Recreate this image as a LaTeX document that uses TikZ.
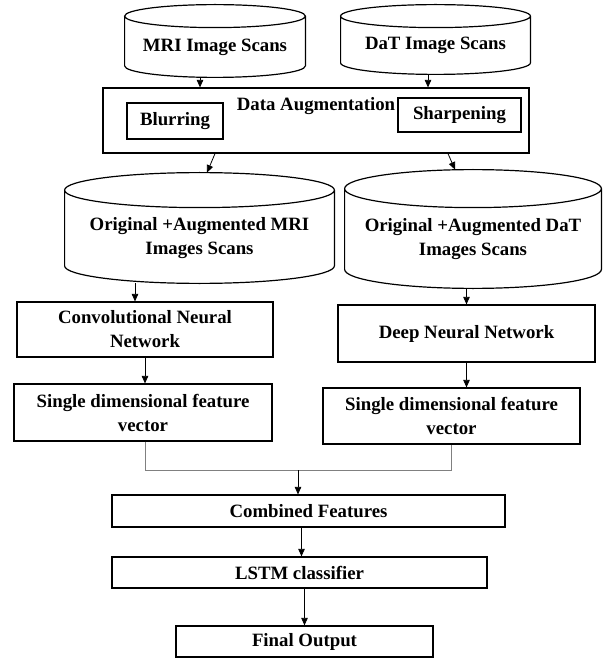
\documentclass[tikz,border=0pt]{standalone}
\usepackage{fontspec}
\setmainfont{Liberation Serif}
\usetikzlibrary{arrows.meta, calc}

% cylinder drawn round a named node: #1 node, #2 radius of the ends
\newcommand{\dbcyl}[2]{%
  \draw[line width=1.2pt] let \p1=(#1.north west), \p2=(#1.south east), \n1={(\x2-\x1)/2} in
    ([yshift=-#2]#1.north) ellipse [x radius=\n1, y radius=#2]
    ([yshift=-#2]#1.north west) -- ([yshift=#2]#1.south west)
    arc [start angle=180, end angle=360, x radius=\n1, y radius=#2]
    -- ([yshift=-#2]#1.north east);
}

\begin{document}
\begin{tikzpicture}[x=1pt, y=-1pt, >={Triangle[length=7.5pt, width=6.5pt]}, line width=0.8pt,
  font=\bfseries\fontsize{18.8}{24}\selectfont,
  box/.style={draw, line width=1.2pt, align=center, inner sep=2pt},
  db/.style={inner sep=0pt}]
\useasboundingbox (0,0) rectangle (609,660);
\node[db, minimum width=180pt, minimum height=72pt, label={[yshift=-6pt]center:MRI Image Scans}] (mri) at (215,41) {};
\node[db, minimum width=189pt, minimum height=69pt, label={[yshift=-6pt]center:DaT Image Scans}] (dat) at (435.5,39.5) {};
\node[box, minimum width=426pt, minimum height=65pt, label={[anchor=north, yshift=-6pt]north:Data Augmentation}] (aug) at (316,120.5) {};
\node[box, minimum width=96pt, minimum height=36pt] (blur) at (175,121) {Blurring};
\node[box, minimum width=123pt, minimum height=34pt] (sharp) at (459.5,115) {Sharpening};
\node[db, minimum width=269pt, minimum height=110pt, label={[align=center, yshift=-10pt]center:Original +Augmented MRI\\Images Scans}] (orimri) at (199.5,228) {};
\node[db, minimum width=256pt, minimum height=118pt, label={[align=center, yshift=-10pt]center:Original +Augmented DaT\\Images Scans}] (oridat) at (473,229) {};
\node[box, minimum width=256pt, minimum height=55pt] (cnn) at (145,329.5) {Convolutional Neural\\Network};
\node[box, minimum width=257pt, minimum height=57pt] (dnn) at (466.5,333.5) {Deep Neural Network};
\node[box, minimum width=258pt, minimum height=57pt] (vecl) at (143,412.5) {Single dimensional feature\\vector};
\node[box, minimum width=257pt, minimum height=56pt] (vecr) at (451.5,416) {Single dimensional feature\\vector};
\node[box, minimum width=393pt, minimum height=32pt] (comb) at (308.5,511) {Combined Features};
\node[box, minimum width=375pt, minimum height=31pt] (lstm) at (299.5,572.5) {LSTM classifier};
\node[box, minimum width=257pt, minimum height=31pt] (final) at (304.5,641.5) {Final Output};
\coordinate (join) at (298,470);
\dbcyl{mri}{11.5pt}
\dbcyl{dat}{11.5pt}
\dbcyl{orimri}{17.5pt}
\dbcyl{oridat}{19pt}
% inputs
\draw[->] ([xshift=-15pt]mri.south) -- ([xshift=-15pt]mri.south |- aug.north);
\draw[->] ([xshift=-7.5pt]dat.south) -- ([xshift=-7.5pt]dat.south |- aug.north);
\draw[->] ([xshift=-101pt]aug.south) -- ([xshift=7.5pt]orimri.north);
\draw[->] ([xshift=132pt]aug.south) -- ([xshift=-18pt]oridat.north);
% networks
\draw[->] ([xshift=-10pt]cnn.north |- orimri.south) -- ([xshift=-10pt]cnn.north);
\draw[->] (dnn.north |- oridat.south) -- (dnn.north);
\draw[->] (cnn.south) -- (cnn.south |- vecl.north);
\draw[->] (dnn.south) -- (dnn.south |- vecr.north);
% merge
\draw[line width=0.5pt, gray] ([xshift=2pt]vecl.south) |- (vecr.south |- join) -- (vecr.south);
\draw[->] (join) -- (join |- comb.north);
\draw[->] ([xshift=2pt]lstm.north |- comb.south) -- ([xshift=2pt]lstm.north);
\draw[->] (final.north |- lstm.south) -- (final.north);
\end{tikzpicture}
\end{document}
